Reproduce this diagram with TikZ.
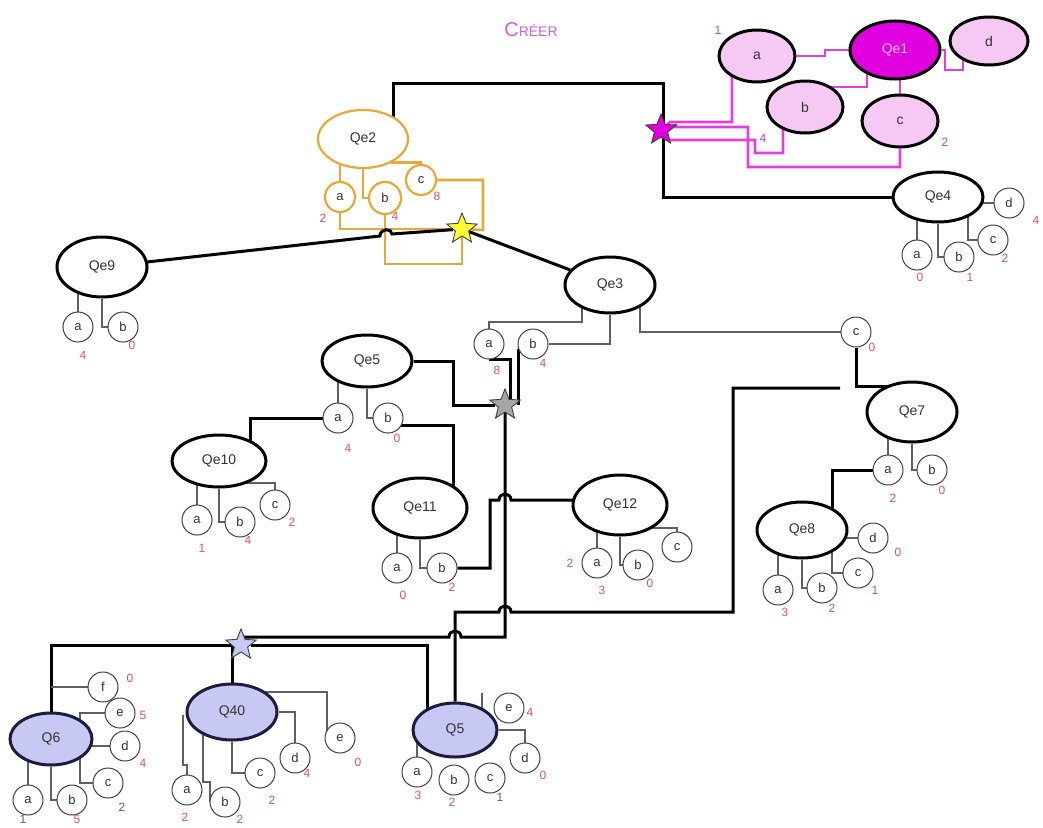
\documentclass[tikz,border=0pt]{standalone}
\usepackage{fontspec}
\setmainfont{Liberation Sans}
\usetikzlibrary{shapes.geometric,backgrounds}
\definecolor{qorange}{HTML}{E8A838}
\definecolor{mline}{HTML}{E040E0}
\definecolor{qmag}{HTML}{E000E0}
\definecolor{pinkfill}{HTML}{F6C8F4}
\definecolor{lav}{HTML}{C8C8F4}
\definecolor{navy}{HTML}{1C1C3C}
\definecolor{branchgray}{HTML}{606060}
\definecolor{circgray}{HTML}{404040}
\definecolor{numred}{HTML}{E0506A}
\definecolor{nummag}{HTML}{C040C0}
\definecolor{titlepink}{HTML}{D060D8}
\definecolor{darktext}{HTML}{333333}
\definecolor{starYellow}{HTML}{FFFF33}
\begin{document}
\begin{tikzpicture}[x=1pt,y=-1pt]
\tikzstyle{quest}=[ellipse,draw=black,line width=3pt,fill=white,text=darktext,inner sep=0pt,minimum width=90pt,minimum height=56pt,font=\fontsize{14}{14}\selectfont]
\tikzstyle{qblue}=[quest,draw=navy,fill=lav]
\tikzstyle{qpink}=[quest,fill=pinkfill,minimum width=76pt,minimum height=52pt]
\tikzstyle{qgold}=[quest,draw=qorange,line width=2.2pt]
\tikzstyle{rep}=[circle,draw=circgray,line width=1pt,fill=white,minimum size=30pt,inner sep=0pt,text=darktext,font=\fontsize{13}{13}\selectfont]
\tikzstyle{repgold}=[rep,draw=qorange,line width=2.2pt]
\tikzstyle{num}=[text=numred,inner sep=0pt,font=\fontsize{12}{12}\selectfont]
\tikzstyle{branch}=[draw=branchgray,line width=1.1pt]
\tikzstyle{link}=[draw=black,line width=3pt]
\tikzstyle{olink}=[draw=qorange,line width=2.6pt]
\tikzstyle{mlink}=[draw=mline,line width=2.6pt]
\tikzstyle{hub}=[star,star points=5,star point ratio=2.3,minimum size=32pt,inner sep=0pt,draw=black!75,line width=0.9pt]

\useasboundingbox (0,0) rectangle (1043,827);

\node[text=titlepink] (title) at (531,30) {{\fontsize{20}{20}\selectfont C}{\fontsize{14}{14}\selectfont R\'EER}};

\node[qgold,minimum height=58pt] (Qe2) at (363,139) {Qe2};
\node[repgold] (Qe2a) at (340,197) {a};
\node[repgold,minimum size=32pt] (Qe2b) at (385,198) {b};
\node[repgold] (Qe2c) at (421,180) {c};

\node[quest,fill=qmag,text=pinkfill,minimum height=58pt] (Qe1) at (895,50) {Qe1};
\node[qpink] (Qe1a) at (757,56) {a};
\node[qpink] (Qe1b) at (805,107) {b};
\node[qpink] (Qe1c) at (900,121) {c};
\node[qpink,minimum width=78pt,minimum height=48pt] (Qe1d) at (989,41) {d};

\node[quest,minimum height=50pt] (Qe4) at (938,197) {Qe4};
\node[quest,minimum height=60pt] (Qe9) at (102,267) {Qe9};
\node[quest] (Qe3) at (610,285) {Qe3};
\node[quest,minimum height=52pt] (Qe5) at (367,361) {Qe5};
\node[quest,minimum width=94pt,minimum height=52pt] (Qe10) at (219,461) {Qe10};
\node[quest,minimum width=94pt,minimum height=60pt] (Qe11) at (420,508) {Qe11};
\node[quest,minimum width=94pt,minimum height=60pt] (Qe12) at (620,505) {Qe12};
\node[quest,minimum height=60pt] (Qe7) at (912,412) {Qe7};
\node[quest] (Qe8) at (802,530) {Qe8};
\node[qblue,minimum width=82pt,minimum height=52pt] (Q6) at (51,739) {Q6};
\node[qblue] (Q40) at (232,712) {Q40};
\node[qblue,minimum width=84pt,minimum height=54pt] (Q5) at (455,730) {Q5};

\foreach \n/\x/\y in {a/917/255,b/959/257,c/993/240,d/1009/203}
  \node[rep] (Qe4\n) at (\x,\y) {\n};
\foreach \n/\x/\y in {a/78/327,b/123/327}
  \node[rep] (Qe9\n) at (\x,\y) {\n};
\foreach \n/\x/\y in {a/489/344,b/533/344,c/856/332}
  \node[rep] (Qe3\n) at (\x,\y) {\n};
\foreach \n/\x/\y in {a/338/418,b/388/418}
  \node[rep] (Qe5\n) at (\x,\y) {\n};
\foreach \n/\x/\y in {a/197/520,b/240/522,c/275/505}
  \node[rep] (Qe10\n) at (\x,\y) {\n};
\foreach \n/\x/\y in {a/397/568,b/442/568}
  \node[rep] (Qe11\n) at (\x,\y) {\n};
\foreach \n/\x/\y in {a/597/563,b/638/565,c/677/547}
  \node[rep] (Qe12\n) at (\x,\y) {\n};
\foreach \n/\x/\y in {a/888/470,b/932/470}
  \node[rep] (Qe7\n) at (\x,\y) {\n};
\foreach \n/\x/\y in {a/778/590,b/822/588,c/858/573,d/873/538}
  \node[rep] (Qe8\n) at (\x,\y) {\n};
\foreach \n/\x/\y in {a/28/800,b/72/800,c/108/783,d/125/746,e/120/713,f/103/687}
  \node[rep] (Q6\n) at (\x,\y) {\n};
\foreach \n/\x/\y in {a/187/790,b/225/802,c/260/773,d/295/758,e/340/738}
  \node[rep] (Q40\n) at (\x,\y) {\n};
\foreach \n/\x/\y in {a/417/772,b/454/780,c/490/778,d/525/758,e/509/708}
  \node[rep] (Q5\n) at (\x,\y) {\n};

\node[hub,fill=starYellow] (yel) at (462,229) {};
\node[hub,fill=qmag] (mstar) at (661,130) {};
\node[hub,fill=black!35] (gstar) at (505,405) {};
\node[hub,fill=lav] (bstar) at (241,645) {};
\coordinate (gap) at (840,388);

\foreach \x/\y/\t [count=\i] in {323/218/2,395/216/4,437/196/8,920/277/0,970/277/1,1005/258/2,1036/220/4,83/355/4,132/345/0,497/370/8,543/363/4,872/347/0,348/448/4,397/438/0,202/548/1,248/540/4,292/522/2,403/595/0,452/587/2,570/563/2,602/590/3,650/583/0,893/498/2,942/490/0,785/612/3,832/608/2,875/590/1,898/552/0,130/678/0,143/715/5,143/763/4,77/819/5,185/817/2,240/819/2,272/800/2,307/773/4,358/762/0,418/795/3,452/802/2,543/775/0,530/712/4}
  \node[num] (nr\i) at (\x,\y) {\t};
\foreach \x/\y/\t [count=\i] in {122/807/2,23/819/1,500/797/1}
  \node[num,text=branchgray] (ng\i) at (\x,\y) {\t};
\foreach \x/\y/\t [count=\i] in {718/30/1,763/138/4,945/142/2}
  \node[num,text=nummag] (nm\i) at (\x,\y) {\t};

\begin{scope}[on background layer]
\fill[white] (0,0) rectangle (1043,827);

\draw[olink] (Qe2a |- Qe2) -- (Qe2a);
\draw[olink] (Qe2) |- (Qe2b);
\draw[olink] (Qe2.-40) -| (Qe2c);
\draw[olink] (Qe2a) |- (yel);
\draw[olink] (Qe2b) -- (Qe2b |- 0,264) -| (yel);
\draw[olink] (Qe2c) -| (483,230) -- (yel);

\draw[link] (Qe9) -- (380,236) .. controls (380,228) and (392,228) .. (392,234) -- (yel) -- (Qe3);
\draw[link] (Qe2) ++(30,0) |- (663,83) |- (Qe4);

\draw[mlink] (Qe1a) -| (825,50) -- (Qe1);
\draw[mlink] (Qe1) -| (945,70) -| (963,41);
\draw[mlink] (Qe1b) |- (867,87) -- (867,50);
\draw[mlink] (Qe1c |- Qe1) -- (Qe1c);
\draw[mlink] (732,56) |- (670,122) -- (mstar);
\draw[mlink] (Qe1c) |- (748,167) |- (670,127) -- (mstar);
\draw[mlink] (783,107) |- (755,153) |- (670,140) -- (mstar);

\draw[branch] (Qe4a |- Qe4) -- (Qe4a);
\draw[branch] (Qe4) |- (Qe4b);
\draw[branch] (968,200) |- (Qe4c);
\draw[branch] (Qe4d -| Qe4) -- (Qe4d);

\draw[branch] (Qe9a |- Qe9) -- (Qe9a);
\draw[branch] (Qe9) |- (Qe9b);

\draw[branch] (582,290) |- (489,322) -- (Qe3a);
\draw[branch] (Qe3) |- (Qe3b);
\draw[branch] (640,290) |- (Qe3c);
\draw[link] (Qe3a.south) -| ([xshift=5]gstar.center);
\draw[link] (Qe3b.200) -- (Qe3b.200 |- gstar);
\draw[link] (Qe3c) |- (Qe7.center |- 0,386);

\draw[branch] (Qe5a |- Qe5) -- (Qe5a);
\draw[branch] (Qe5) |- (Qe5b);
\draw[link] (Qe5) -| (453,405) -- (gstar);
\draw[link] (Qe5a) -| (250,461);
\draw[link] (Qe5b.-30) -| (453,508);

\draw[branch] (Qe10a |- Qe10) -- (Qe10a);
\draw[branch] (Qe10) |- (Qe10b);
\draw[branch] (247,470) |- (275,483) -- (Qe10c);

\draw[branch] (Qe11a |- Qe11) -- (Qe11a);
\draw[branch] (Qe11) |- (Qe11b);
\draw[link] (Qe11b) -| (490,500) -- (499,500) .. controls (499,492) and (511,492) .. (511,500) -- (Qe12.center |- 0,500);

\draw[branch] (Qe12a |- Qe12) -- (Qe12a);
\draw[branch] (Qe12) |- (Qe12b);
\draw[branch] (640,528) -| (Qe12c);

\draw[branch] (Qe7a |- Qe7) -- (Qe7a);
\draw[branch] (Qe7) |- (Qe7b);
\draw[link] (Qe7a) -| (832,530);

\draw[branch] (Qe8a |- Qe8) -- (Qe8a);
\draw[branch] (Qe8) |- (Qe8b);
\draw[branch] (832,535) |- (Qe8c);
\draw[branch] (Qe8d -| Qe8) -- (Qe8d);

\draw[link] (gstar) -- (505,637) -- (461,637) .. controls (461,629) and (449,629) .. (449,637) -- (bstar.center |- 0,637);
\draw[link] (Q6) |- (bstar) -| (427,720);
\draw[link] (Q40) -- (Q40 |- bstar);
\draw[link] (Q5) |- (499,612) .. controls (499,604) and (511,604) .. (511,612) -| (733,388) -- (gap);

\draw[branch] (Q6 |- Q6f) -- (Q6f);
\draw[branch] (80,725) |- (Q6e);
\draw[branch] (Q6d -| Q6) -- (Q6d);
\draw[branch] (80,739) |- (Q6c);
\draw[branch] (Q6) |- (Q6b);
\draw[branch] (Q6a |- Q6) -- (Q6a);

\draw[branch] (250,692) -| (327,738);
\draw[branch] (Q40) -| (Q40d);
\draw[branch] (Q40) |- (Q40c);
\draw[branch] (203,720) -- (203,782) -- (210,782) |- (Q40b);
\draw[branch] (183,715) -- (183,765) -- (187,765) -- (Q40a);

\draw[branch] (482,720) -- (482,693);
\draw[branch] (Q5) -| (Q5d);
\draw[branch] (Q5a |- Q5) -- (Q5a);
\end{scope}

\end{tikzpicture}
\end{document}
